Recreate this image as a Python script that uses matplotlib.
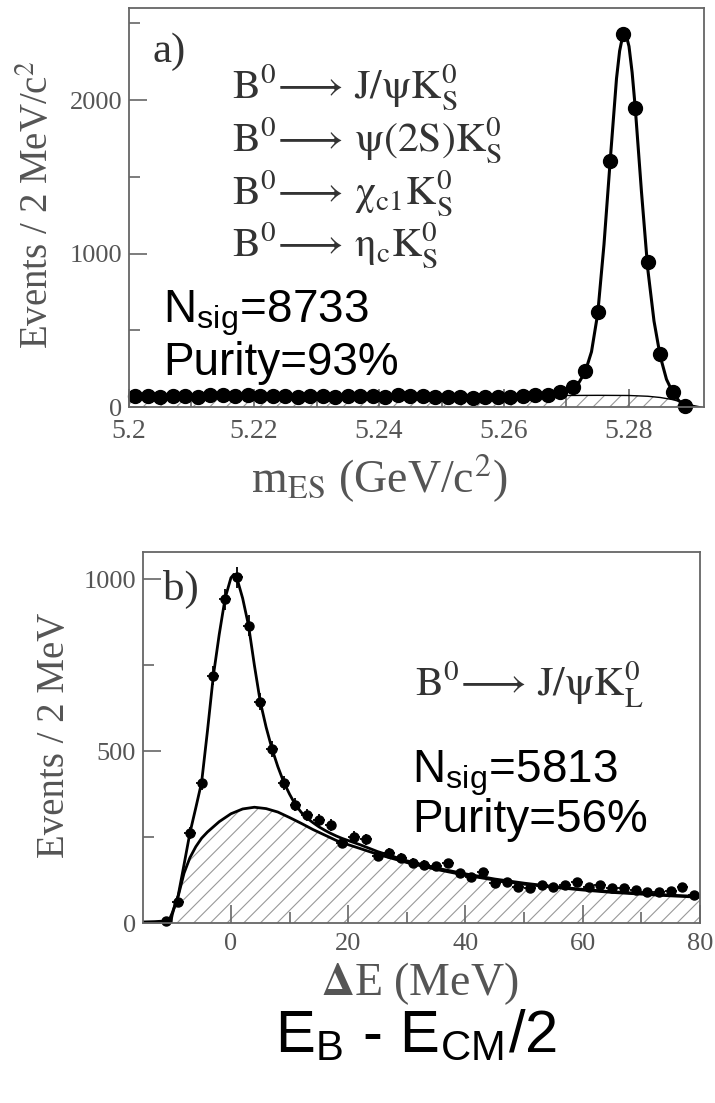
import numpy as np
import matplotlib
matplotlib.use('Agg')
import matplotlib.pyplot as plt

plt.rcParams['font.family'] = 'Liberation Serif'
plt.rcParams['mathtext.fontset'] = 'stix'
plt.rcParams['hatch.linewidth'] = 0.8

# ---- pannello a) : m_ES ----
mes_centers = [5.201, 5.203, 5.205, 5.207, 5.209, 5.211, 5.213, 5.215, 5.217, 5.219,
               5.221, 5.223, 5.225, 5.227, 5.229, 5.231, 5.233, 5.235, 5.237, 5.239,
               5.241, 5.243, 5.245, 5.247, 5.249, 5.251, 5.253, 5.255, 5.257, 5.259,
               5.261, 5.263, 5.265, 5.267, 5.269, 5.271, 5.273, 5.275, 5.277, 5.279,
               5.281, 5.283, 5.285, 5.287, 5.289]
mes_counts = [72, 70, 68, 74, 70, 66, 75, 78, 73, 76,
              70, 74, 72, 68, 73, 69, 66, 70, 74, 71,
              68, 75, 72, 70, 66, 64, 62, 60, 63, 66,
              68, 70, 75, 80, 95, 130, 235, 620, 1605, 2430,
              1950, 945, 345, 97, 5]

mes_fit_x = [5.200, 5.210, 5.220, 5.230, 5.240, 5.250, 5.260, 5.265, 5.268, 5.270,
             5.271, 5.272, 5.273, 5.274, 5.275, 5.276, 5.277, 5.278, 5.2785, 5.279,
             5.2795, 5.280, 5.2805, 5.281, 5.282, 5.283, 5.284, 5.285, 5.286, 5.287,
             5.288, 5.289, 5.290]
mes_fit_y = [70, 71, 72, 73, 74, 75, 76, 79, 88, 100,
             118, 160, 230, 360, 610, 1060, 1610, 2140, 2320, 2420,
             2430, 2350, 2180, 1950, 1400, 900, 560, 330, 180, 95,
             40, 10, 0]

mes_bkg_x = [5.200, 5.220, 5.240, 5.260, 5.270, 5.275, 5.280, 5.283, 5.285, 5.287,
             5.289, 5.290, 5.2915]
mes_bkg_y = [64, 67, 70, 73, 75, 76, 75, 70, 62, 48, 25, 12, 0]

mes_ticks = [5.2, 5.22, 5.24, 5.26, 5.28]
mes_tick_labels = ['5.2', '5.22', '5.24', '5.26', '5.28']
mes_minor = [5.21, 5.23, 5.25, 5.27]

# ---- pannello b) : Delta E ----
de_centers = [-11, -9, -7, -5, -3, -1, 1, 3, 5, 7,
              9, 11, 13, 15, 17, 19, 21, 23, 25, 27,
              29, 31, 33, 35, 37, 39, 41, 43, 45, 47,
              49, 51, 53, 55, 57, 59, 61, 63, 65, 67,
              69, 71, 73, 75, 77, 79]
de_counts = [6, 62, 262, 408, 720, 942, 1006, 866, 644, 507,
             408, 344, 315, 300, 286, 233, 251, 244, 195, 203,
             189, 175, 169, 165, 174, 145, 134, 148, 116, 119,
             105, 102, 110, 105, 110, 119, 105, 110, 102, 102,
             96, 90, 90, 92, 105, 81]

de_fit_x = [-15, -13, -11, -10.5, -10, -9, -8, -7, -6, -5,
            -4, -3, -2, -1, 0, 0.5, 1, 2, 3, 4,
            5, 6, 7, 8, 9, 10, 11, 12, 13, 14,
            15, 16, 17, 18, 19, 20, 22, 25, 30, 35,
            40, 45, 50, 55, 60, 65, 70, 75, 80]
de_fit_y = [3, 4, 6, 10, 30, 80, 170, 262, 335, 410,
            560, 720, 840, 945, 1005, 1015, 1005, 945, 866, 750,
            644, 570, 507, 455, 410, 375, 344, 322, 305, 292,
            280, 270, 261, 253, 246, 240, 228, 208, 181, 160,
            143, 128, 116, 106, 98, 91, 86, 81, 77]

de_bkg_x = [-10.3, -10, -9.5, -9, -8, -7, -6, -5, -4, -2,
            0, 2, 4, 6, 8, 10, 12, 14, 16, 18,
            20, 22, 25, 30, 35, 40, 45, 50, 55, 60,
            65, 70, 75, 80]
de_bkg_y = [0, 25, 55, 78, 145, 190, 222, 247, 265, 295,
            318, 332, 337, 333, 323, 307, 290, 272, 256, 240,
            228, 217, 200, 176, 156, 139, 125, 113, 104, 96,
            89, 84, 79, 75]

de_ticks = [0, 20, 40, 60, 80]
de_minor = [-10, 10, 30, 50, 70]

W, H = 715, 1103
fig = plt.figure(figsize=(7.15, 11.03), dpi=100)


def fx(x):
    return x / W


def fy(y):
    return 1 - y / H


grey = '#555555'
ink = '#333333'

ax_a = fig.add_axes([fx(129), fy(407), 575 / W, 399 / H])
ax_b = fig.add_axes([fx(143), fy(923), 557 / W, 371 / H])

# a) fondo tratteggiato + fit + dati
ax_a.fill_between(mes_bkg_x, 0, mes_bkg_y, facecolor='none', edgecolor='#999999',
                  hatch='//', linewidth=0)
ax_a.plot(mes_bkg_x, mes_bkg_y, color='black', lw=1.0)
ax_a.plot(mes_fit_x, mes_fit_y, color='black', lw=2.2)
ax_a.errorbar(mes_centers, mes_counts, xerr=0.001, yerr=np.sqrt(mes_counts),
              fmt='o', color='black', ms=10, elinewidth=1.4, capsize=0, clip_on=False)
ax_a.set_xlim(5.2, 5.292)
ax_a.set_ylim(0, 2600)
ax_a.set_xticks(mes_ticks)
ax_a.set_xticklabels(mes_tick_labels)
ax_a.set_xticks(mes_minor, minor=True)
ax_a.set_yticks([0, 1000, 2000])
ax_a.set_yticks([500, 1500, 2500], minor=True)
ax_a.set_xlabel(r'm$_{\rm ES}$ (GeV/c$^2$)', fontsize=33, color=grey)
ax_a.xaxis.set_label_coords(0.435, -0.115)
ax_a.set_ylabel(r'Events / 2 MeV/c$^2$', fontsize=28, color=grey)
ax_a.yaxis.set_label_coords(-0.125, 0.506)

# b)
ax_b.fill_between(de_bkg_x, 0, de_bkg_y, facecolor='none', edgecolor='#999999',
                  hatch='//', linewidth=0)
ax_b.plot(de_bkg_x, de_bkg_y, color='black', lw=2.0)
ax_b.plot(de_fit_x, de_fit_y, color='black', lw=2.0)
ax_b.errorbar(de_centers, de_counts, xerr=1, yerr=np.sqrt(de_counts),
              fmt='o', color='black', ms=6.5, elinewidth=1.3, capsize=0, clip_on=False)
ax_b.set_xlim(-15, 80)
ax_b.set_ylim(0, 1080)
ax_b.set_xticks(de_ticks)
ax_b.set_xticks(de_minor, minor=True)
ax_b.set_yticks([0, 500, 1000])
ax_b.set_yticks([250, 750], minor=True)
ax_b.set_xlabel(r'$\mathbf{\Delta}$E (MeV)', fontsize=33, color=grey)
ax_b.xaxis.set_label_coords(0.497, -0.1)
ax_b.set_ylabel('Events / 2 MeV', fontsize=28, color=grey)
ax_b.yaxis.set_label_coords(-0.125, 0.507)

for ax in (ax_a, ax_b):
    for s in ax.spines.values():
        s.set_color('#666666')
        s.set_linewidth(1.3)
    ax.tick_params(which='both', direction='in', colors='#666666', labelcolor=grey,
                   width=1.2)
    ax.tick_params(which='major', length=13)
    ax.tick_params(which='minor', length=8)
    ax.tick_params(axis='y', pad=5, labelsize=19)
ax_a.tick_params(axis='x', pad=9, labelsize=20)
ax_b.tick_params(axis='x', pad=7, labelsize=19)

# testi pannello a)
fig.text(fx(152), fy(62), 'a)', fontsize=31, color=ink, va='baseline')
decays_a = [r'$\mathrm{B}^0\!\longrightarrow\,\mathrm{J/ψK}^0_\mathrm{S}$',
            r'$\mathrm{B}^0\!\longrightarrow\,\mathrm{ψ(2S)K}^0_\mathrm{S}$',
            r'$\mathrm{B}^0\!\longrightarrow\,\mathrm{χ}_{\mathrm{c1}}\mathrm{K}^0_\mathrm{S}$',
            r'$\mathrm{B}^0\!\longrightarrow\,\mathrm{η}_\mathrm{c}\mathrm{K}^0_\mathrm{S}$']
for i, d in enumerate(decays_a):
    fig.text(fx(232), fy(99 + 52.7 * i), d, fontsize=30, color=ink, va='baseline')
fig.text(fx(163), fy(322), r'N$_{\mathregular{sig}}$=8733', family='Liberation Sans',
         fontsize=33, va='baseline')
fig.text(fx(163), fy(375), 'Purity=93%', family='Liberation Sans',
         fontsize=33, va='baseline')

# testi pannello b)
fig.text(fx(163), fy(600), 'b)', fontsize=31, color=ink, va='baseline')
fig.text(fx(415), fy(697), r'$\mathrm{B}^0\!\longrightarrow\,\mathrm{J/ψK}^0_\mathrm{L}$',
         fontsize=30, color=ink, va='baseline')
fig.text(fx(412), fy(782), r'N$_{\mathregular{sig}}$=5813', family='Liberation Sans',
         fontsize=33, va='baseline')
fig.text(fx(412), fy(832), 'Purity=56%', family='Liberation Sans',
         fontsize=33, va='baseline')

fig.text(fx(416), fy(1052), r'E$_{\mathregular{B}}$ - E$_{\mathregular{CM}}$/2',
         family='Liberation Sans', fontsize=43, ha='center', va='baseline')

fig.savefig('out.png', dpi=100)
